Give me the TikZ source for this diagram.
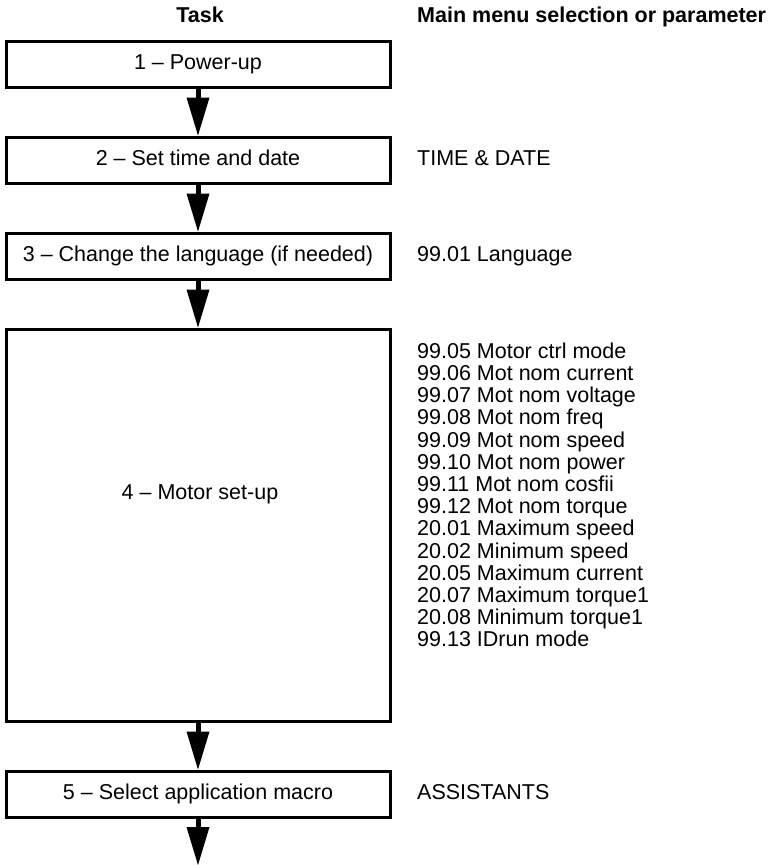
\documentclass[tikz,border=0pt]{standalone}
\usepackage{fontspec}
\setmainfont{Liberation Sans}
\usetikzlibrary{arrows.meta}

\tikzset{
  taskbox/.style={shape=rectangle, draw=black, line width=3pt, minimum width=384pt,
    minimum height=46pt, inner sep=0pt, text height=15.5pt, text depth=4.5pt},
  flowarrow/.style={-{Triangle[width=23pt,length=38pt,line width=0pt]}, line width=5pt},
  paramtext/.style={anchor=base west, inner sep=0pt},
  headtext/.style={anchor=base, inner sep=0pt, font=\fontsize{21.5}{22.2}\selectfont\bfseries},
}

\begin{document}
\begin{tikzpicture}[x=1pt, y=-1pt, font=\fontsize{21.5}{22.2}\selectfont]
\useasboundingbox (0,0) rectangle (768,865);
% column heads
\node[headtext] (taskhead) at (200, 22.5) {Task};
\node[headtext, anchor=base west] (menuhead) at (417, 22.5) {Main menu selection or parameter};
% task boxes
\node[taskbox] (b1) at (198, 64) {1 – Power-up};
\node[taskbox] (b2) at (198, 160) {2 – Set time and date};
\node[taskbox] (b3) at (198, 256) {3 – Change the language (if needed)};
\node[taskbox, minimum height=392pt] (b4) at (198, 525) {};
\node[inner sep=0pt, anchor=base] (b4txt) at (200, 499) {4 – Motor set-up};
\node[taskbox] (b5) at (198, 794) {5 – Select application macro};
\coordinate (end) at (198, 865);
% menu entries
\node[paramtext] (p2) at (417, 165.5) {TIME \& DATE};
\node[paramtext] (p3) at (417, 261.5) {99.01 Language};
\node[paramtext, anchor=north west, align=left] (p4) at (417, 342.5) {99.05 Motor ctrl mode\\
99.06 Mot nom current\\
99.07 Mot nom voltage\\
99.08 Mot nom freq\\
99.09 Mot nom speed\\
99.10 Mot nom power\\
99.11 Mot nom cosfii\\
99.12 Mot nom torque\\
20.01 Maximum speed\\
20.02 Minimum speed\\
20.05 Maximum current\\
20.07 Maximum torque1\\
20.08 Minimum torque1\\
99.13 IDrun mode};
\node[paramtext] (p5) at (417, 799.5) {ASSISTANTS};
% flow
\draw [flowarrow] (b1.south) -- (b2.north);
\draw [flowarrow] (b2.south) -- (b3.north);
\draw [flowarrow] (b3.south) -- (b4.north);
\draw [flowarrow] (b4.south) -- (b5.north);
\draw [flowarrow] (b5.south) -- (end);
\end{tikzpicture}
\end{document}
